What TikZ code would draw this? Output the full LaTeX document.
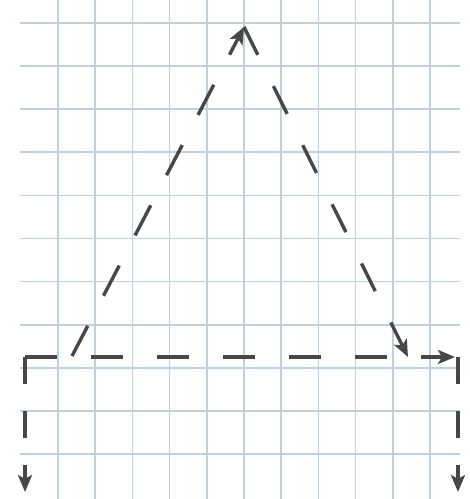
\documentclass[tikz,border=0pt]{standalone}
\usepackage{tikz}
\usetikzlibrary{arrows.meta}

\tikzset{
    gridline/.style={draw={rgb,255:red,192;green,208;blue,220}, line width=1.7pt},
    sketch/.style={draw=black!72, line width=3.4pt,
                   -{Stealth[length=17pt, width=14pt, inset=4pt]}},
}

\begin{document}
\begin{tikzpicture}[x=1pt, y=-1pt]
    \useasboundingbox (0,0) rectangle (470,499);

    % Grid paper
    \foreach \i in {0,...,10} {
        \draw[gridline] (20,23+43.1*\i) -- (460,23+43.1*\i);
        \draw[gridline] (58+37.2*\i,0) -- (58+37.2*\i,499);
    }

    % Corner points
    \coordinate (apex) at (244,27);
    \coordinate (foot-l) at (72,356);
    \coordinate (foot-r) at (408,357);
    \coordinate (corner-l) at (25,357);
    \coordinate (corner-r) at (458,357);
    \coordinate (end-h) at (455,357);
    \coordinate (end-l) at (25,492);
    \coordinate (end-r) at (458,492);

    % Triangle
    \draw[sketch, dash pattern=on 34pt off 34pt] (foot-l) -- (apex);
    \draw[sketch, dash pattern=on 31pt off 35pt] (apex) -- (foot-r);

    % Base line
    \draw[sketch, dash pattern=on 32pt off 34pt] (corner-l) -- (end-h);

    % Down arrows
    \draw[sketch, dash pattern=on 27pt off 27pt] (corner-l) -- (end-l);
    \draw[sketch, dash pattern=on 27pt off 27pt] (corner-r) -- (end-r);

\end{tikzpicture}
\end{document}
